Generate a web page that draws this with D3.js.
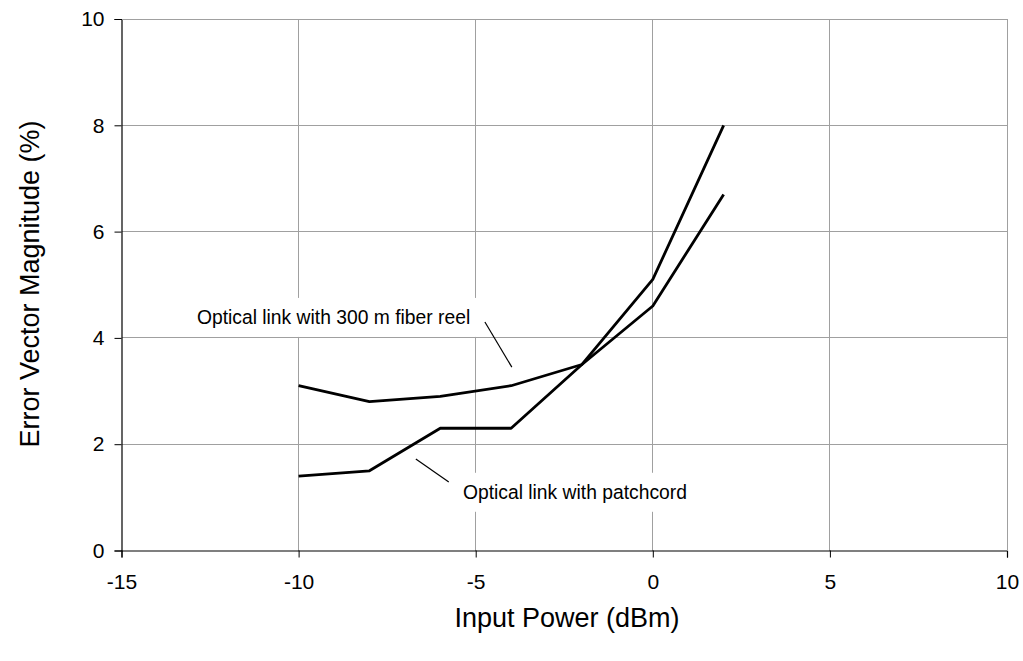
<!DOCTYPE html>
<html>
<head>
<meta charset="utf-8">
<script src="https://cdn.jsdelivr.net/npm/d3@7"></script>
<style>
  html, body { margin: 0; padding: 0; background: #fff; }
  svg { display: block; font-family: "Liberation Sans", Arial, sans-serif; }
</style>
</head>
<body>
<svg id="chart" width="1023" height="661"></svg>
<script>
// ---- data ----
const inputPower = [-10, -8, -6, -4, -2, 0, 2];
const fiberReelEVM = [3.1, 2.8, 2.9, 3.1, 3.5, 4.6, 6.7];
const patchcordEVM = [1.4, 1.5, 2.3, 2.3, 3.5, 5.1, 8.0];
const xTicks = [-15, -10, -5, 0, 5, 10];
const yTicks = [0, 2, 4, 6, 8, 10];
const xDomain = [-15, 10];
const yDomain = [0, 10];
const xTitle = "Input Power (dBm)";
const yTitle = "Error Vector Magnitude (%)";
const fiberLabel = "Optical link with 300 m fiber reel";
const patchLabel = "Optical link with patchcord";
// annotation anchors in data units
const fiberLabelAt = [-12.87, 4.39];
const fiberLeader = [[-4.74, 4.30], [-3.98, 3.45]];
const patchLabelAt = [-5.36, 1.10];
const patchLeader = [[-6.69, 1.72], [-5.76, 1.29]];

// ---- layout ----
const L = 121.5, R = 1007, T = 19, B = 550.5;
const svg = d3.select("#chart");
const x = d3.scaleLinear().domain(xDomain).range([L, R]);
const y = d3.scaleLinear().domain(yDomain).range([B, T]);
const grid = "#a0a0a0";
const fmt = d => String(d); // plain hyphen-minus as in reference

// gridlines
const g = svg.append("g");
g.selectAll("line.h").data(yTicks.filter(d => d > 0)).join("line")
  .attr("x1", L).attr("x2", R).attr("y1", d => y(d)).attr("y2", d => y(d))
  .attr("stroke", grid).attr("stroke-width", 1).attr("shape-rendering", "crispEdges");
g.selectAll("line.v").data(xTicks.filter(d => d > xDomain[0])).join("line")
  .attr("y1", T).attr("y2", B).attr("x1", d => x(d)).attr("x2", d => x(d))
  .attr("stroke", grid).attr("stroke-width", 1).attr("shape-rendering", "crispEdges");

// annotation texts + white boxes that hide gridlines behind them
const fiberText = svg.append("text").text(fiberLabel)
  .attr("x", x(fiberLabelAt[0])).attr("y", y(fiberLabelAt[1]))
  .attr("dy", "0.35em").attr("font-size", 19.3).attr("fill", "#000");
const patchText = svg.append("text").text(patchLabel)
  .attr("x", x(patchLabelAt[0])).attr("y", y(patchLabelAt[1]))
  .attr("dy", "0.35em").attr("font-size", 19.3).attr("fill", "#000");
[fiberText, patchText].forEach(t => {
  const bb = t.node().getBBox();
  svg.insert("rect", "text").attr("x", bb.x - 9).attr("y", bb.y - 9)
    .attr("width", bb.width + 18).attr("height", bb.height + 18).attr("fill", "#fff");
});

// axes
const xAxis = d3.axisBottom(x).tickValues(xTicks).tickSize(7).tickPadding(17).tickFormat(fmt);
const yAxis = d3.axisLeft(y).tickValues(yTicks).tickSize(7).tickPadding(10).tickFormat(fmt);
const gx = svg.append("g").attr("transform", `translate(0,${B})`).call(xAxis);
const gy = svg.append("g").attr("transform", `translate(${L},0)`).call(yAxis);
[gx, gy].forEach(a => {
  a.select(".domain").attr("stroke", "#000").attr("stroke-width", 1.2);
  a.selectAll(".tick line").attr("stroke", "#000");
  a.selectAll(".tick text").attr("font-size", 21).attr("font-family", "Liberation Sans, Arial, sans-serif").attr("fill", "#000");
});
// top and right frame (gray)
svg.append("line").attr("x1", L).attr("x2", R).attr("y1", T).attr("y2", T)
  .attr("stroke", grid).attr("shape-rendering", "crispEdges");
svg.append("line").attr("x1", R).attr("x2", R).attr("y1", T).attr("y2", B)
  .attr("stroke", grid).attr("shape-rendering", "crispEdges");

// series lines
const line = d3.line().x((d, i) => x(inputPower[i])).y(d => y(d));
[fiberReelEVM, patchcordEVM].forEach(s => {
  svg.append("path").datum(s).attr("d", line)
    .attr("fill", "none").attr("stroke", "#000").attr("stroke-width", 2.8)
    .attr("stroke-linejoin", "round");
});

// leader lines
[fiberLeader, patchLeader].forEach(p => {
  svg.append("line").attr("x1", x(p[0][0])).attr("y1", y(p[0][1]))
    .attr("x2", x(p[1][0])).attr("y2", y(p[1][1]))
    .attr("stroke", "#000").attr("stroke-width", 1.2);
});
fiberText.raise(); patchText.raise();

// axis titles
svg.append("text").text(xTitle).attr("x", 567).attr("y", 618).attr("dy", "0.35em")
  .attr("text-anchor", "middle").attr("font-size", 27).attr("fill", "#000");
svg.append("text").text(yTitle)
  .attr("transform", `translate(30,${284}) rotate(-90)`).attr("dy", "0.35em")
  .attr("text-anchor", "middle").attr("font-size", 27).attr("fill", "#000");
</script>
</body>
</html>
